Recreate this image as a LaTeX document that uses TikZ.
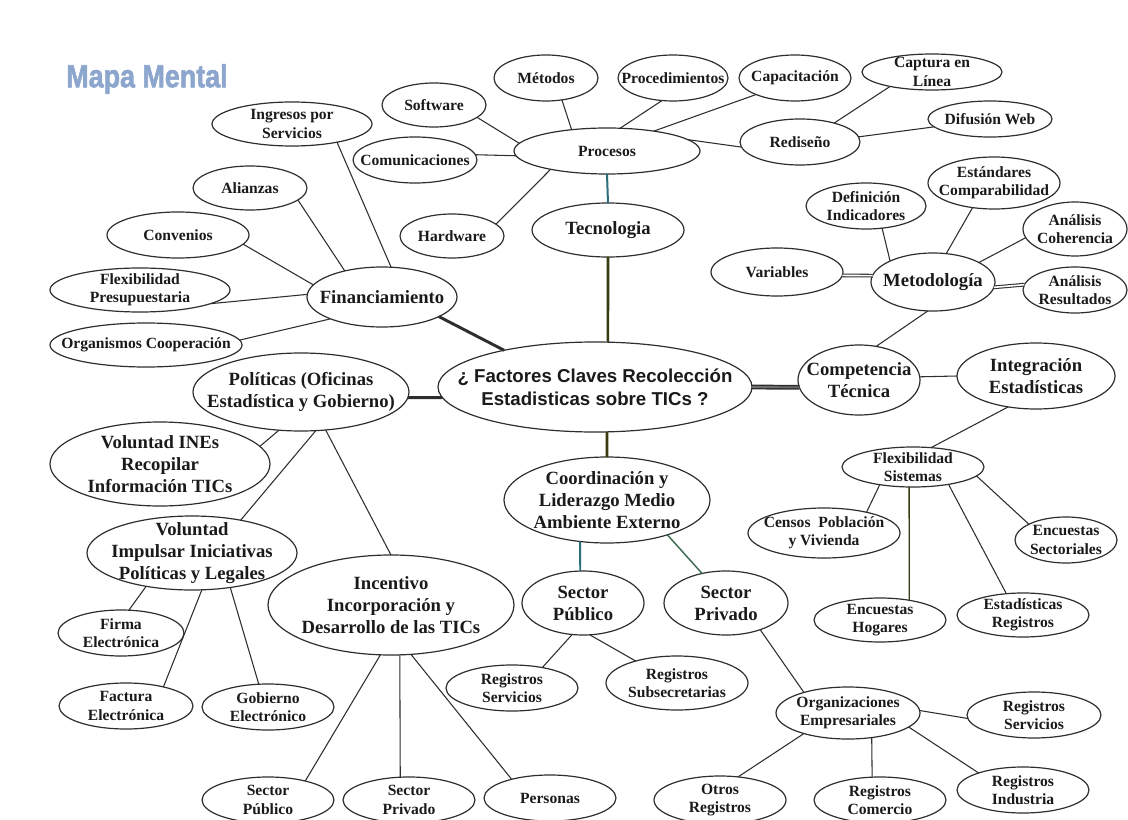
\documentclass[tikz,border=0pt]{standalone}
\usepackage{fontspec}
\setmainfont{Liberation Serif}
\newfontfamily\arialfont{Liberation Sans}
\newfontfamily\titlefont[BoldFeatures={FakeBold=2}]{Liberation Sans}
\usetikzlibrary{shapes.geometric}
\definecolor{lc}{HTML}{2E2E2E}
\definecolor{tc}{HTML}{1A1A1A}
\definecolor{titleblue}{HTML}{8CA6CD}
\definecolor{tealc}{HTML}{2A6E78}
\definecolor{olivec}{HTML}{3A3A12}
\definecolor{greenc}{HTML}{3D6B4F}
\newcommand\fsm{\fontsize{11.7}{13.7}\selectfont\bfseries}
\newcommand\flg{\fontsize{14}{16.6}\selectfont\bfseries}
\tikzset{
  ell/.style 2 args={ellipse, draw=lc, line width=0.9pt, minimum width={#1*1.5pt}, minimum height={#2*1.5pt}, inner sep=0pt, outer sep=0pt},
  lbl/.style={inner sep=0pt, align=center, text=tc},
  sm/.style={lbl, font=\fsm},
  lg/.style={lbl, font=\flg},
  conn/.style={draw=lc, line width=0.8pt},
  heavy/.style={draw=lc, line width=2.2pt},
  dbl/.style={draw=lc, line width=0.8pt, double=white, double distance=1.2pt},
}
% \enode{name}{x,y}{rx}{ry}{text style}{text}
\newcommand\enode[6]{%
  \node[ell={#3}{#4}] (#1) at (#2) {};
  \node[#5] (#1-t) at (#1.center) {#6};
}
\begin{document}
\begin{tikzpicture}[x=0.75pt,y=-0.75pt]
\useasboundingbox (0,0) rectangle (1128,820);
% title
\node[font=\titlefont\bfseries\fontsize{24}{24}\selectfont, text=titleblue, xscale=0.84, inner sep=0pt] (title) at (147,79) {Mapa Mental};
% nodes
\enode{ingresos}{292,124}{80}{22}{sm}{Ingresos por\\Servicios}
\enode{software}{434,105}{52}{22}{sm}{Software}
\enode{comunic}{415,160}{62}{23}{sm}{Comunicaciones}
\enode{alianzas}{250,188}{57}{22}{sm}{Alianzas}
\enode{convenios}{178,235}{71}{23}{sm}{Convenios}
\enode{hardware}{452,236}{52}{22}{sm}{Hardware}
\enode{flexpres}{140,290}{90}{22}{sm}{Flexibilidad\\Presupuestaria}
\enode{financ}{382,297}{75}{30}{lg}{Financiamiento}
\enode{organismos}{146,345}{96}{22}{sm}{Organismos Cooperación}
\enode{metodos}{546,78}{52}{23}{sm}{Métodos}
\enode{procedim}{673,78}{55}{23}{sm}{Procedimientos}
\enode{capacit}{795,78}{56}{23}{sm}{Capacitación}
\enode{captura}{932,72}{70}{18}{sm}{Captura en\\Línea}
\enode{difusion}{990,119}{62}{18}{sm}{Difusión Web}
\enode{procesos}{607,151}{93}{23}{sm}{Procesos}
\enode{rediseno}{800,142}{60}{23}{sm}{Rediseño}
\enode{tecnologia}{608,230}{76}{27}{lg}{Tecnologia}
\enode{estandares}{994,183}{66}{26}{sm}{Estándares\\Comparabilidad}
\enode{definicion}{866,206}{60}{23}{sm}{Definición\\Indicadores}
\enode{coherencia}{1075,229}{52}{27}{sm}{Análisis\\Coherencia}
\enode{variables}{777,272}{66}{24}{sm}{Variables}
\enode{metodologia}{933,282}{62}{29}{lg}{Metodología}
\enode{resultados}{1075,290}{52}{23}{sm}{Análisis\\Resultados}
\enode{central}{595,387}{157}{45}{lbl, font=\arialfont\bfseries\fontsize{14}{17.3}\selectfont}{¿ Factores Claves Recolección\\Estadisticas sobre TICs ?}
\enode{politicas}{301,392}{108}{39}{lg}{Políticas (Oficinas\\Estadística y Gobierno)}
\enode{competencia}{859,380}{61}{35}{lg}{Competencia\\Técnica}
\enode{integracion}{1036,376}{79}{33}{lg}{Integración\\Estadísticas}
\enode{vines}{160,464}{110}{42}{lg}{Voluntad INEs\\Recopilar\\Información TICs}
\enode{vimp}{192,553}{105}{37}{lg}{Voluntad\\Impulsar Iniciativas\\Políticas y Legales}
\enode{incentivo}{391,605}{123}{50}{lg}{Incentivo\\Incorporación y\\Desarrollo de las TICs}
\enode{firma}{121,633}{63}{23}{sm}{Firma\\Electrónica}
\enode{factura}{126,706}{67}{23}{sm}{Factura\\Electrónica}
\enode{gobierno}{268,707}{66}{23}{sm}{Gobierno\\Electrónico}
\enode{spbot}{268,800}{66}{23}{sm}{Sector\\Público}
\enode{sprbot}{409,800}{66}{23}{sm}{Sector\\Privado}
\enode{personas}{550,798}{66}{23}{sm}{Personas}
\enode{rsleft}{512,688}{66}{23}{sm}{Registros\\Servicios}
\enode{coord}{607,500}{103}{43}{lg}{Coordinación y\\Liderazgo Medio\\Ambiente Externo}
\enode{flexsist}{913,467}{71}{20}{sm}{Flexibilidad\\Sistemas}
\enode{censos}{824,533}{76}{25}{sm}{Censos\ \ Población\\y Vivienda}
\enode{encsect}{1066,540}{51}{23}{sm}{Encuestas\\Sectoriales}
\enode{enchog}{880,620}{66}{22}{sm}{Encuestas\\Hogares}
\enode{estreg}{1023,615}{66}{22}{sm}{Estadísticas\\Registros}
\enode{sectorpub}{583,603}{61}{32}{lg}{Sector\\Público}
\enode{sectorpriv}{726,603}{62}{32}{lg}{Sector\\Privado}
\enode{regsubsec}{677,683}{71}{27}{sm}{Registros\\Subsecretarias}
\enode{organiz}{848,713}{72}{26}{sm}{Organizaciones\\Empresariales}
\enode{rsright}{1034,715}{67}{23}{sm}{Registros\\Servicios}
\enode{otros}{720,800}{66}{24}{sm}{Otros\\Registros}
\enode{comercio}{880,800}{66}{23}{sm}{Registros\\Comercio}
\enode{industria}{1023,790}{66}{23}{sm}{Registros\\Industria}
% connectors
\draw[conn] (ingresos.338) -- (financ.73);
\draw[conn] (alianzas.346) -- (financ.145);
\draw[conn] (convenios.352) -- (financ.170);
\draw[conn] (flexpres.349) -- (financ.178);
\draw[conn] (organismos.3) -- (financ.203);
\draw[heavy] (financ.341) -- (central.158);
\draw[conn] (software.344) -- (procesos.175);
\draw[conn] (comunic.5) -- (procesos.183);
\draw[conn] (hardware.15) -- (procesos.198);
\draw[conn] (metodos.306) -- (procesos.149);
\draw[conn] (procedim.244) -- (procesos.60);
\draw[conn] (capacit.203) -- (procesos.23);
\draw[conn] (procesos.8) -- (rediseno.185);
\draw[conn] (captura.199) -- (rediseno.29);
\draw[conn] (difusion.188) -- (rediseno.5);
\draw[draw=tealc, line width=1.5pt] (procesos.south) -- (tecnologia.north);
\draw[draw=olivec, line width=2pt] (tecnologia.south) -- (central.74);
\draw[conn] (definicion.306) -- (metodologia.154);
\draw[conn] (estandares.229) -- (metodologia.65);
\draw[conn] (coherencia.190) -- (metodologia.23);
\draw[dbl] (variables.357) -- (metodologia.174);
\draw[dbl] (metodologia.355) -- (resultados.174);
\draw[conn] (metodologia.260) -- (competencia.63);
\draw[draw=lc, line width=1.1pt, double=lc!70, double distance=1.4pt] (central.0) -- (competencia.187);
\draw[conn] (competencia.3) -- (integracion.180);
\draw[conn] (integracion.228) -- (flexsist.47);
\draw[conn] (flexsist.208) -- (censos.26);
\draw[draw=olivec, line width=1pt] (flexsist.259) -- (enchog.34);
\draw[conn] (flexsist.334) -- (estreg.128);
\draw[conn] (flexsist.352) -- (encsect.157);
\draw[draw=olivec, line width=2pt] (central.285) -- (coord.north);
\draw[draw=tealc, line width=1.4pt] (coord.237) -- (sectorpub.95);
\draw[draw=greenc, line width=1.1pt] (coord.330) -- (sectorpriv.129);
\draw[heavy] (politicas.357) -- (central.184);
\draw[conn] (vines.10) -- (politicas.240);
\draw[conn] (politicas.291) -- (vimp.34);
\draw[conn] (politicas.303) -- (incentivo.north);
\draw[conn] (vimp.216) -- (firma.71);
\draw[conn] (vimp.285) -- (factura.27);
\draw[conn] (vimp.318) -- (gobierno.112);
\draw[conn] (incentivo.258) -- (spbot.27);
\draw[conn] (incentivo.280) -- (sprbot.111);
\draw[conn] (incentivo.292) -- (personas.154);
\draw[conn] (sectorpub.251) -- (rsleft.34);
\draw[conn] (sectorpub.282) -- (regsubsec.152);
\draw[conn] (sectorpriv.322) -- (organiz.155);
\draw[conn] (organiz.2) -- (rsright.183);
\draw[conn] (organiz.205) -- (otros.52);
\draw[conn] (organiz.314) -- (comercio.109);
\draw[conn] (organiz.347) -- (industria.159);
\end{tikzpicture}
\end{document}
